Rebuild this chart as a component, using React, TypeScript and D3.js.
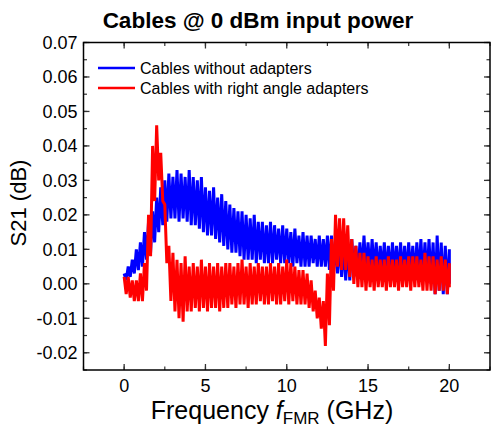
import React from "react";
import * as d3 from "d3";

// Frequency grid (GHz) shared by both traces
const freqs: number[] = d3.range(0, 20.0001, 0.25).map((f) => +f.toFixed(2));

// Cables without adapters: upper / lower extent of the noisy S21 trace (dB)
const blueHi: number[] = [
  0.003, 0.005, 0.007, 0.010, 0.012, 0.015, 0.018, 0.021, 0.025, 0.028,
  0.030, 0.032, 0.031, 0.033, 0.032, 0.031, 0.033, 0.031, 0.030, 0.031,
  0.028, 0.027, 0.028, 0.025, 0.026, 0.024, 0.023, 0.022, 0.021, 0.021,
  0.020, 0.019, 0.020, 0.018, 0.018, 0.017, 0.018, 0.017, 0.016, 0.017,
  0.016, 0.015, 0.016, 0.014, 0.015, 0.014, 0.014, 0.013, 0.014, 0.013,
  0.014, 0.014, 0.013, 0.013, 0.012, 0.012, 0.013, 0.011, 0.012, 0.014,
  0.012, 0.013, 0.012, 0.011, 0.012, 0.011, 0.012, 0.011, 0.012, 0.011,
  0.012, 0.011, 0.012, 0.013, 0.012, 0.013, 0.012, 0.014, 0.012, 0.011,
  0.010,
];
const blueLo: number[] = [
  0.001, 0.002, 0.003, 0.004, 0.005, 0.007, 0.009, 0.012, 0.015, 0.017,
  0.018, 0.019, 0.019, 0.018, 0.019, 0.018, 0.017, 0.017, 0.016, 0.015,
  0.014, 0.014, 0.013, 0.012, 0.011, 0.010, 0.009, 0.009, 0.008, 0.007,
  0.007, 0.007, 0.006, 0.007, 0.006, 0.006, 0.006, 0.007, 0.006, 0.006,
  0.006, 0.005, 0.006, 0.005, 0.005, 0.005, 0.006, 0.005, 0.005, 0.005,
  0.004, 0.003, 0.003, 0.002, 0.001, 0.001, 0.002, 0.002, 0.003, 0.003,
  0.003, 0.003, 0.002, 0.003, 0.002, 0.002, 0.003, 0.002, 0.002, 0.002,
  0.002, 0.001, 0.002, 0.001, 0.001, 0.000, -0.003, -0.002, -0.003, -0.003,
  0.000,
];

// Cables with right angle adapters
const redHi: number[] = [
  0.002, 0.002, 0.001, 0.001, 0.003, 0.006, 0.020, 0.040, 0.046, 0.038,
  0.023, 0.011, 0.009, 0.007, 0.006, 0.008, 0.005, 0.006, 0.005, 0.007,
  0.005, 0.006, 0.005, 0.006, 0.005, 0.006, 0.006, 0.005, 0.006, 0.007,
  0.005, 0.006, 0.005, 0.006, 0.005, 0.005, 0.006, 0.005, 0.006, 0.005,
  0.007, 0.006, 0.005, 0.004, 0.004, 0.003, 0.001, -0.002, -0.004, -0.005,
  0.003, 0.013, 0.020, 0.019, 0.019, 0.017, 0.013, 0.011, 0.009, 0.009,
  0.008, 0.007, 0.008, 0.007, 0.007, 0.008, 0.007, 0.007, 0.008, 0.007,
  0.008, 0.008, 0.008, 0.007, 0.009, 0.008, 0.008, 0.007, 0.008, 0.007,
  0.006,
];
const redLo: number[] = [
  -0.003, -0.004, -0.005, -0.005, -0.005, -0.002, 0.008, 0.024, 0.030, 0.024,
  0.006, -0.005, -0.008, -0.010, -0.011, -0.008, -0.008, -0.007, -0.008, -0.007,
  -0.008, -0.007, -0.007, -0.008, -0.007, -0.007, -0.006, -0.007, -0.006, -0.006,
  -0.007, -0.006, -0.006, -0.005, -0.006, -0.006, -0.005, -0.006, -0.006, -0.005,
  -0.006, -0.005, -0.006, -0.006, -0.006, -0.007, -0.008, -0.010, -0.013, -0.018,
  -0.012, -0.002, 0.005, 0.004, 0.004, 0.002, 0.000, -0.001, -0.001, -0.002,
  -0.001, -0.002, -0.001, -0.001, -0.002, -0.001, -0.001, -0.002, -0.001, -0.001,
  -0.002, -0.001, -0.001, -0.002, -0.002, -0.002, -0.003, -0.002, -0.002, -0.003,
  -0.001,
];

const xTicks: number[] = [0, 5, 10, 15, 20];
const yTicks: number[] = [-0.02, -0.01, 0, 0.01, 0.02, 0.03, 0.04, 0.05, 0.06, 0.07];

const seriesNames: string[] = ["Cables without adapters", "Cables with right angle adapters"];
const seriesColors: string[] = ["#0000ff", "#ff0000"];

const W = 491;
const H = 435;
const left = 83.5;
const right = 490;
const top = 42.5;
const bottom = 370;

const x = d3.scaleLinear().domain([-2.5, 22.5]).range([left, right]);
const y = d3.scaleLinear().domain([-0.025, 0.07]).range([bottom, top]);

const FONT = "'Liberation Sans', Arial, sans-serif";

// Zigzag between the upper and lower extent to render the dense noisy trace
function noisePath(hi: number[], lo: number[]): string {
  const step = freqs[1] - freqs[0];
  const pts: [number, number][] = [];
  freqs.forEach((f, i) => {
    pts.push([x(f), y(hi[i])]);
    const fl = i === freqs.length - 1 ? f : f + step / 2;
    pts.push([x(fl), y(lo[i])]);
  });
  return d3.line()(pts) || "";
}

export default function App() {
  const xMinor = d3.range(-2.5, 22.51, 2.5);
  const yMinor = d3.range(-0.025, 0.0701, 0.005);
  const major = 6;
  const minor = 3.5;
  const tickColor = "#333";

  const fmtY = (v: number) => (Math.abs(v) < 1e-9 ? "0.00" : v.toFixed(2));

  return (
    <svg width={W} height={H} style={{ position: "absolute", left: 0, top: 0 }} fontFamily={FONT}>
      <rect width={W} height={H} fill="#fff" />

      {/* traces */}
      <path d={noisePath(blueHi, blueLo)} fill="none" stroke={seriesColors[0]} strokeWidth={3} strokeLinejoin="bevel" />
      <path d={noisePath(redHi, redLo)} fill="none" stroke={seriesColors[1]} strokeWidth={3} strokeLinejoin="bevel" />

      {/* minor ticks */}
      {xMinor.map((t, i) => (
        <g key={"xm" + i} stroke={tickColor} strokeWidth={1.2}>
          <line x1={x(t)} x2={x(t)} y1={bottom} y2={bottom - minor} />
          <line x1={x(t)} x2={x(t)} y1={top} y2={top + minor} />
        </g>
      ))}
      {yMinor.map((t, i) => (
        <g key={"ym" + i} stroke={tickColor} strokeWidth={1.2}>
          <line x1={left} x2={left + minor} y1={y(t)} y2={y(t)} />
          <line x1={right} x2={right - minor} y1={y(t)} y2={y(t)} />
        </g>
      ))}

      {/* major ticks and labels */}
      {xTicks.map((t) => (
        <g key={"x" + t}>
          <line x1={x(t)} x2={x(t)} y1={bottom} y2={bottom - major} stroke={tickColor} strokeWidth={1.3} />
          <line x1={x(t)} x2={x(t)} y1={top} y2={top + major} stroke={tickColor} strokeWidth={1.3} />
          <text x={x(t)} y={bottom + 21.5} textAnchor="middle" fontSize={18} fill="#000">
            {t}
          </text>
        </g>
      ))}
      {yTicks.map((t) => (
        <g key={"y" + t}>
          <line x1={left} x2={left + major} y1={y(t)} y2={y(t)} stroke={tickColor} strokeWidth={1.3} />
          <line x1={right} x2={right - major} y1={y(t)} y2={y(t)} stroke={tickColor} strokeWidth={1.3} />
          <text x={left - 6} y={y(t) + 6.5} textAnchor="end" fontSize={18} fill="#000">
            {fmtY(t)}
          </text>
        </g>
      ))}

      {/* frame */}
      <rect x={left} y={top} width={right - left} height={bottom - top} fill="none" stroke="#000" strokeWidth={1.5} />

      {/* legend */}
      {seriesNames.map((name, i) => (
        <g key={name} transform={`translate(98, ${68 + i * 20})`}>
          <line x1={0} x2={37} y1={0} y2={0} stroke={seriesColors[i]} strokeWidth={2.5} />
          <text x={42} y={6} fontSize={16} fill="#000">
            {name}
          </text>
        </g>
      ))}

      {/* title */}
      <text x={258} y={28} textAnchor="middle" fontSize={22.5} fontWeight="bold" fill="#000">
        Cables @ 0 dBm input power
      </text>

      {/* axis titles */}
      <text x={272} y={419} textAnchor="middle" fontSize={25} fill="#000">
        Frequency <tspan fontStyle="italic">f</tspan>
        <tspan fontSize={17} dy={5}>FMR</tspan>
        <tspan dy={-5}> (GHz)</tspan>
      </text>
      <text transform={`translate(26, 203) rotate(-90)`} textAnchor="middle" fontSize={22} fill="#000">
        S21 (dB)
      </text>
    </svg>
  );
}
